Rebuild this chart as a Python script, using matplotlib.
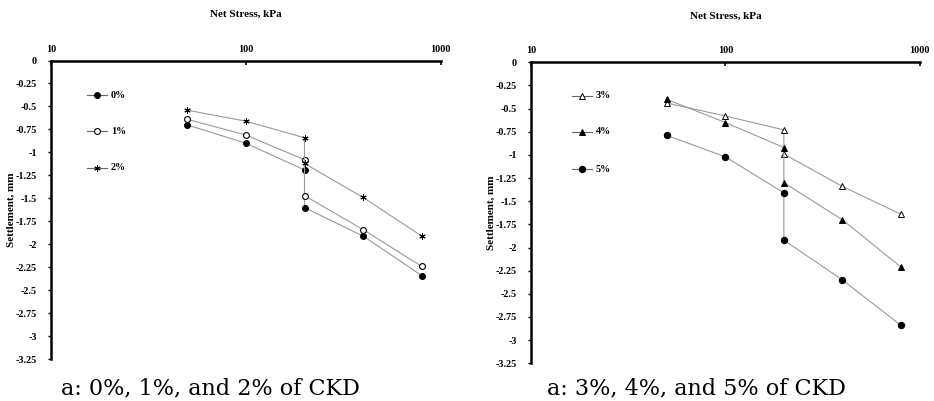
import matplotlib
matplotlib.use("Agg")
import matplotlib.pyplot as plt
from matplotlib.lines import Line2D

# Data
stress = [50, 100, 200, 200, 400, 800]
xticks = [10, 100, 1000]
yticks = [0, -0.25, -0.5, -0.75, -1, -1.25, -1.5, -1.75, -2, -2.25, -2.5, -2.75, -3, -3.25]
ytick_labels = ["0", "-0.25", "-0.5", "-0.75", "-1", "-1.25", "-1.5", "-1.75", "-2",
                "-2.25", "-2.5", "-2.75", "-3", "-3.25"]

s0 = [-0.70, -0.90, -1.19, -1.60, -1.91, -2.34]
s1 = [-0.64, -0.81, -1.08, -1.47, -1.84, -2.24]
s2 = [-0.54, -0.66, -0.84, -1.12, -1.49, -1.91]
s3 = [-0.44, -0.58, -0.73, -0.99, -1.34, -1.64]
s4 = [-0.40, -0.65, -0.92, -1.30, -1.70, -2.21]
s5 = [-0.79, -1.02, -1.41, -1.92, -2.35, -2.84]

labels_a = ["0%", "1%", "2%"]
labels_b = ["3%", "4%", "5%"]
caption_a = "a: 0%, 1%, and 2% of CKD"
caption_b = "a: 3%, 4%, and 5% of CKD"

serif = "Liberation Serif"
fig = plt.figure(figsize=(9.34, 4.01), dpi=100)

ax1 = fig.add_axes([51/934, 1 - 359.3/401, 389.7/934, 298.8/401])
ax2 = fig.add_axes([531/934, 1 - 363.3/401, 388.7/934, 301/401])

styles_a = [dict(marker="o", mfc="black", mec="black", ms=4.2, mew=0.8),
            dict(marker="o", mfc="white", mec="black", ms=4.2, mew=0.8),
            dict(marker=(6, 2, 0), mfc="black", mec="black", ms=4.5, mew=0.7)]
styles_b = [dict(marker="^", mfc="white", mec="black", ms=4.2, mew=0.7),
            dict(marker="^", mfc="black", mec="black", ms=4.2, mew=0.7),
            dict(marker="o", mfc="black", mec="black", ms=4.5, mew=0.8)]

line_color = "#9a9a9a"

def setup(ax, series, styles, labels, legend_x, legend_ys, ylab_x):
    for s, st in zip(series, styles):
        ax.plot(stress, s, color=line_color, lw=0.8, zorder=2, **st)
    ax.set_xscale("log")
    ax.set_xlim(10, 1000)
    ax.set_ylim(-3.25, 0)
    ax.xaxis.tick_top()
    ax.xaxis.set_label_position("top")
    ax.set_xticks(xticks)
    ax.set_xticklabels([str(t) for t in xticks])
    ax.minorticks_off()
    ax.set_yticks(yticks)
    ax.set_yticklabels(ytick_labels)
    for sp in ["right", "bottom"]:
        ax.spines[sp].set_visible(False)
    for sp in ["top", "left"]:
        ax.spines[sp].set_linewidth(1.8)
    ax.tick_params(axis="x", direction="in", length=3, width=1.2, pad=5, labelsize=7.3)
    ax.tick_params(axis="y", direction="out", length=2, width=1.0, pad=8, labelsize=7.3)
    for lab in ax.get_xticklabels() + ax.get_yticklabels():
        lab.set_fontfamily(serif)
        lab.set_fontweight("bold")
    ax.set_xlabel("Net Stress, kPa", fontfamily=serif, fontweight="bold", fontsize=8, labelpad=20)
    ax.set_ylabel("Settlement, mm", fontfamily=serif, fontweight="bold", fontsize=8)
    ax.yaxis.set_label_coords(ylab_x, 0.5)
    for lbl, st, ly in zip(labels, styles, legend_ys):
        x0, x1 = legend_x, legend_x + 20
        yf = 1 - ly / 401
        fig.add_artist(Line2D([x0 / 934, x1 / 934], [yf, yf], transform=fig.transFigure,
                              color="#666666", lw=0.8))
        fig.add_artist(Line2D([(x0 + x1) / 2 / 934], [yf], transform=fig.transFigure,
                              color="none", linestyle="none", **st))
        fig.text((x1 + 4) / 934, yf, lbl, fontfamily=serif, fontweight="bold", fontsize=7.3,
                 va="center", ha="left")

setup(ax1, [s0, s1, s2], styles_a, labels_a, 87, [95, 131, 167.7], -0.09)
setup(ax2, [s3, s4, s5], styles_b, labels_b, 572, [96, 132, 169], -0.09)

fig.text(210 / 934, 1 - 388 / 401, caption_a, fontfamily="DejaVu Serif", fontsize=16,
         ha="center", va="center")
fig.text(696 / 934, 1 - 388 / 401, caption_b, fontfamily="DejaVu Serif", fontsize=16,
         ha="center", va="center")

fig.savefig("out.png", dpi=100)
